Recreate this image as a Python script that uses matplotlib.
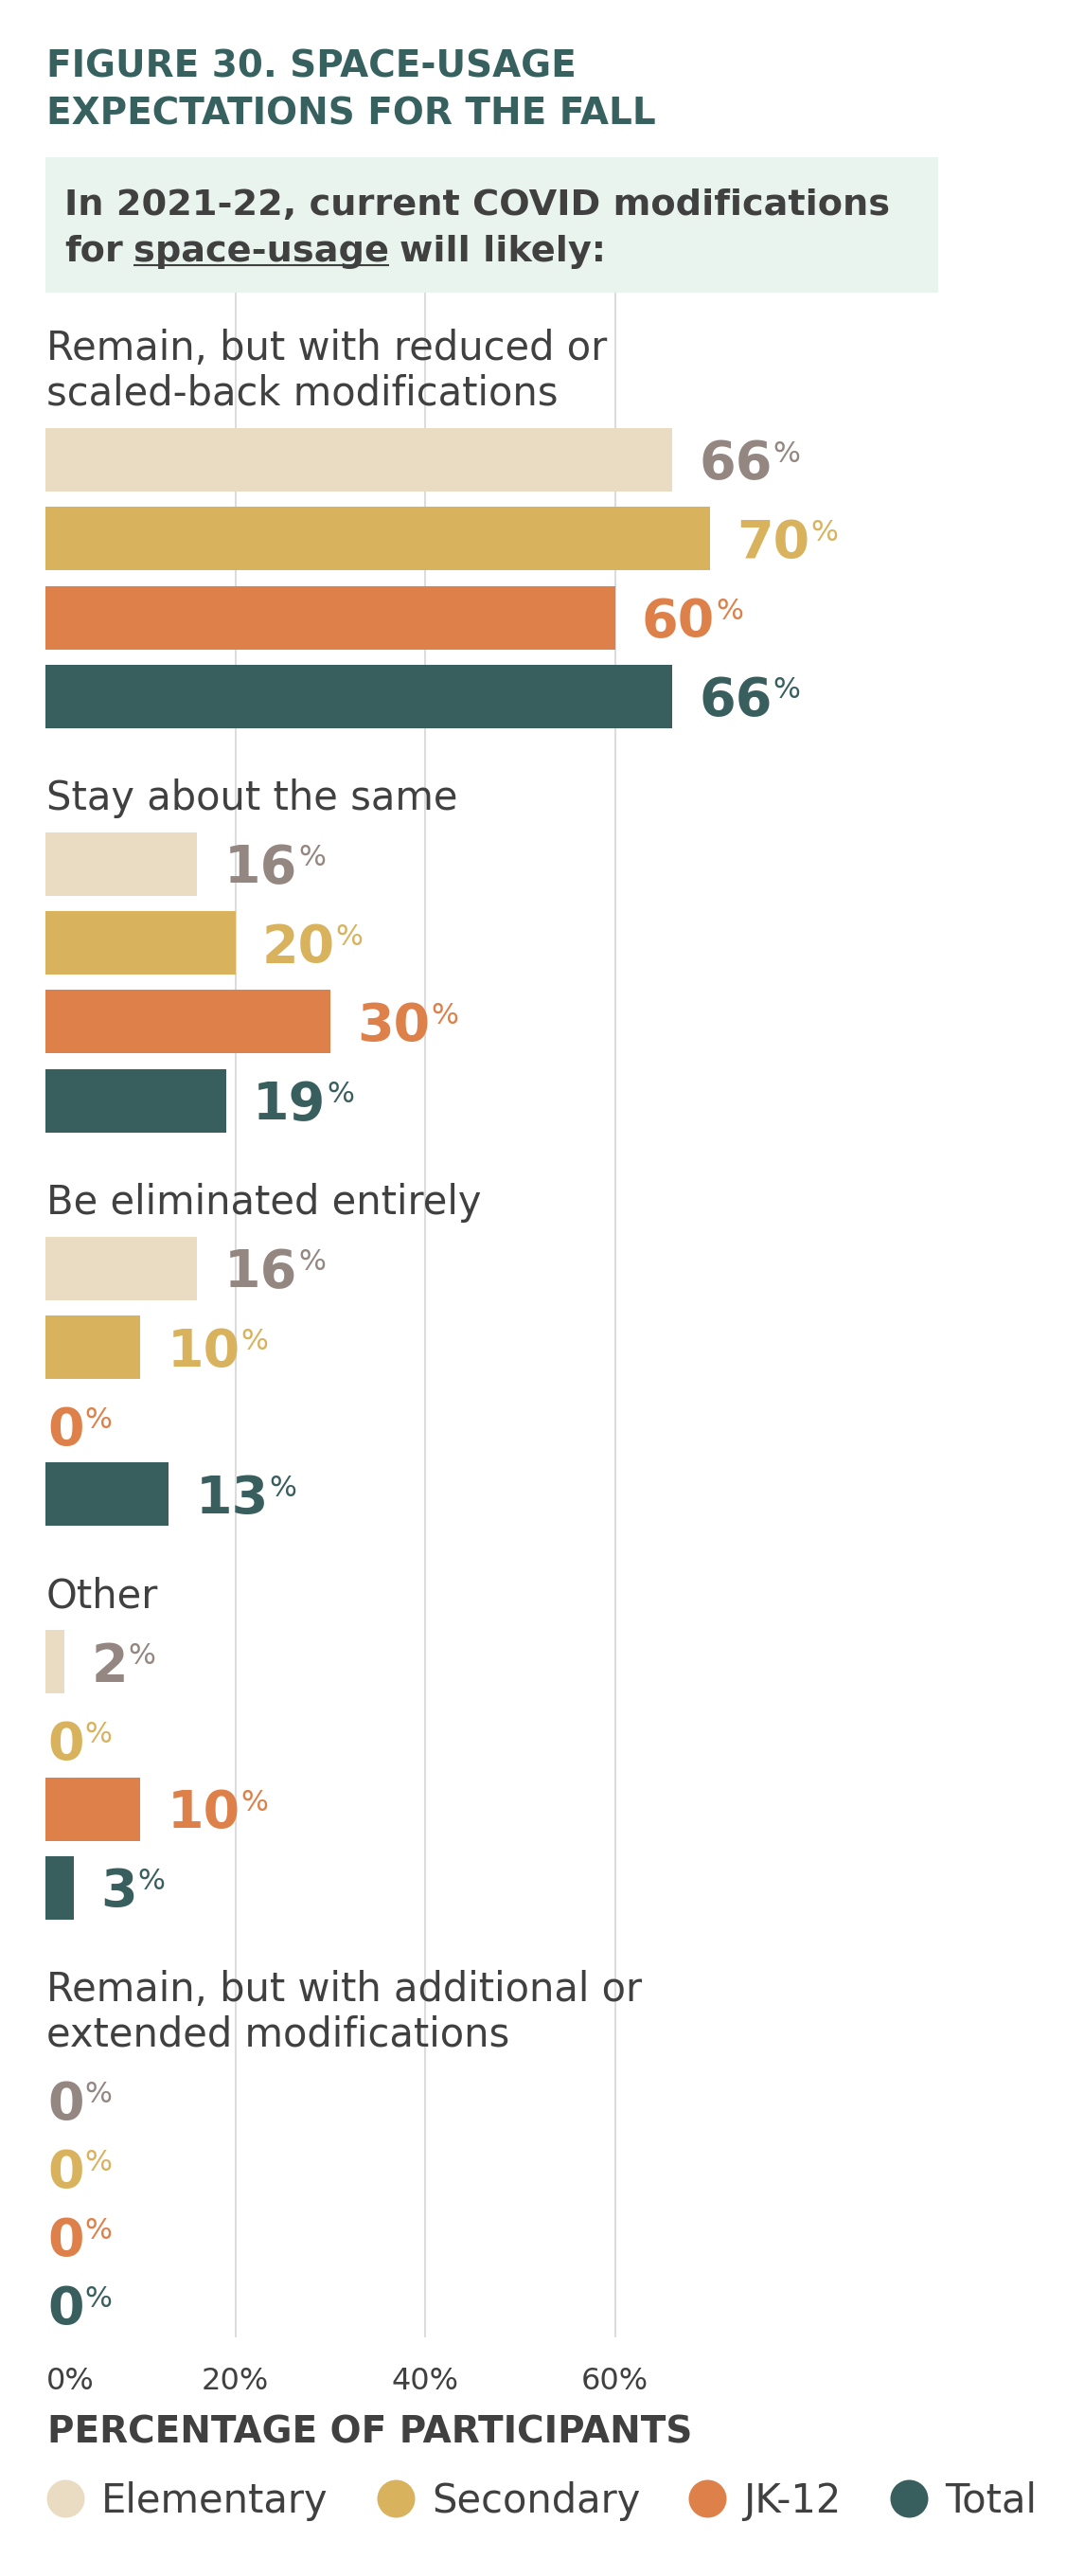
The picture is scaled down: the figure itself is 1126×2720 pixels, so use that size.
import matplotlib
matplotlib.use("Agg")
import matplotlib.pyplot as plt
from matplotlib.lines import Line2D
from matplotlib.patches import Rectangle

# --- data -------------------------------------------------------------
categories = [
    "Remain, but with reduced or\nscaled-back modifications",
    "Stay about the same",
    "Be eliminated entirely",
    "Other",
    "Remain, but with additional or\nextended modifications",
]
groups = ["Elementary", "Secondary", "JK-12", "Total"]
elementary = [66, 16, 16, 2, 0]
secondary = [70, 20, 10, 0, 0]
jk12 = [60, 30, 0, 10, 0]
total = [66, 19, 13, 3, 0]
ticks = [0, 20, 40, 60]

title_lines = ["FIGURE 30. SPACE-USAGE", "EXPECTATIONS FOR THE FALL"]
question_line1 = "In 2021-22, current COVID modifications"
question_line2 = ["for ", "space-usage", " will likely:"]
xlabel = "PERCENTAGE OF PARTICIPANTS"

series = [elementary, secondary, jk12, total]

# --- style / layout ---------------------------------------------------
bar_colors = ["#eadcc2", "#d9b25d", "#de8049", "#385f5e"]
label_colors = ["#948680", "#d9b25d", "#de8049", "#385f5e"]
TEXT = "#404041"
TEAL = "#37615f"
BOX = "#e9f4ef"
GRID = "#dcdcdc"

W, H = 1126, 2720
X0 = 48            # pixel x of 0%
PX_PER_PCT = 10.03
BAR_H = 67
BAR_PITCH = 83.3
ZERO_PITCH = 72
LINE_GAP = 48
GROUP_GAP = 86


def px(x):
    """pixel x -> data x (percent)"""
    return (x - X0) / PX_PER_PCT


fig = plt.figure(figsize=(W / 100, H / 100), dpi=100)
ax = fig.add_axes([X0 / W, 0, 1 - X0 / W, 1])
ax.set_xlim(0, (W - X0) / PX_PER_PCT)
ax.set_ylim(H, 0)
ax.axis("off")
renderer = fig.canvas.get_renderer()
inv = ax.transData.inverted()

# title
for i, line in enumerate(title_lines):
    ax.text(px(49), 81 + i * 50, line, fontsize=28, fontweight="bold",
            color=TEAL, va="baseline", ha="left")

# question box
ax.add_patch(Rectangle((0, 166), px(991), 143, facecolor=BOX,
                       edgecolor="none", zorder=0))
ax.text(px(68), 227, question_line1, fontsize=27.5, fontweight="bold",
        color=TEXT, va="baseline")
xcur = px(68)
for j, part in enumerate(question_line2):
    t = ax.text(xcur, 276, part.strip(), fontsize=27.5, fontweight="bold",
                color=TEXT, va="baseline")
    bb = t.get_window_extent(renderer)
    x_left = inv.transform((bb.x0, 0))[0]
    x_right = inv.transform((bb.x1, 0))[0]
    if j == 1:
        ax.plot([x_left, x_right], [280, 280], color=TEXT, lw=1.5,
                solid_capstyle="butt")
    # a space after each part
    xcur = x_right + px(X0 + 11)

# --- layout rows ------------------------------------------------------
rows = [[] for _ in groups]
baseline = 380
last_bottom = 0
for ci, cat in enumerate(categories):
    lines = cat.split("\n")
    for li, line in enumerate(lines):
        ax.text(px(49), baseline + li * LINE_GAP, line, fontsize=30,
                color=TEXT, va="baseline", ha="left")
    top = baseline + (len(lines) - 1) * LINE_GAP + 24
    for gi, s in enumerate(series):
        rows[gi].append(top + BAR_H / 2)
        last_bottom = top + BAR_H
        top += BAR_PITCH if s[ci] > 0 else ZERO_PITCH
    baseline = last_bottom + GROUP_GAP

grid_bottom = last_bottom
ax.vlines(ticks[1:], 309, grid_bottom, color=GRID, lw=1.5, zorder=0)

# bars
for gi, s in enumerate(series):
    ax.barh(rows[gi], s, height=BAR_H, left=0, color=bar_colors[gi],
            zorder=2, linewidth=0)

# value labels with small superscript %
for gi, s in enumerate(series):
    for yc, v in zip(rows[gi], s):
        x = v + 2.8 if v > 0 else px(50)
        t = ax.text(x, yc + 20, f"{v}", fontsize=40, fontweight="bold",
                    color=label_colors[gi], va="baseline", ha="left", zorder=3)
        bb = t.get_window_extent(renderer)
        xr = inv.transform((bb.x1 + 1, 0))[0]
        ax.text(xr, yc + 2, "%", fontsize=22, color=label_colors[gi],
                va="baseline", ha="left", zorder=3)

# x tick labels
for tv in ticks:
    if tv == 0:
        ax.text(px(49), grid_bottom + 55, f"{tv}%", fontsize=23, color=TEXT,
                va="baseline", ha="left")
    else:
        ax.text(tv, grid_bottom + 55, f"{tv}%", fontsize=23, color=TEXT,
                va="baseline", ha="center")

ax.text(px(50), grid_bottom + 112, xlabel, fontsize=28, fontweight="bold",
        color=TEXT, va="baseline", ha="left")

# legend
handles = [Line2D([], [], marker="o", ls="", markersize=28.8,
                  markerfacecolor=c, markeredgewidth=0) for c in bar_colors]
fig.legend(handles, groups, loc="center left",
           bbox_to_anchor=(X0 / W, 1 - (grid_bottom + 173) / H), ncol=4,
           frameon=False, fontsize=30, handlelength=1.0, handletextpad=0.42,
           columnspacing=1.2, borderpad=0, borderaxespad=0, labelcolor=TEXT)

fig.savefig("out.png", dpi=100, facecolor="white")
